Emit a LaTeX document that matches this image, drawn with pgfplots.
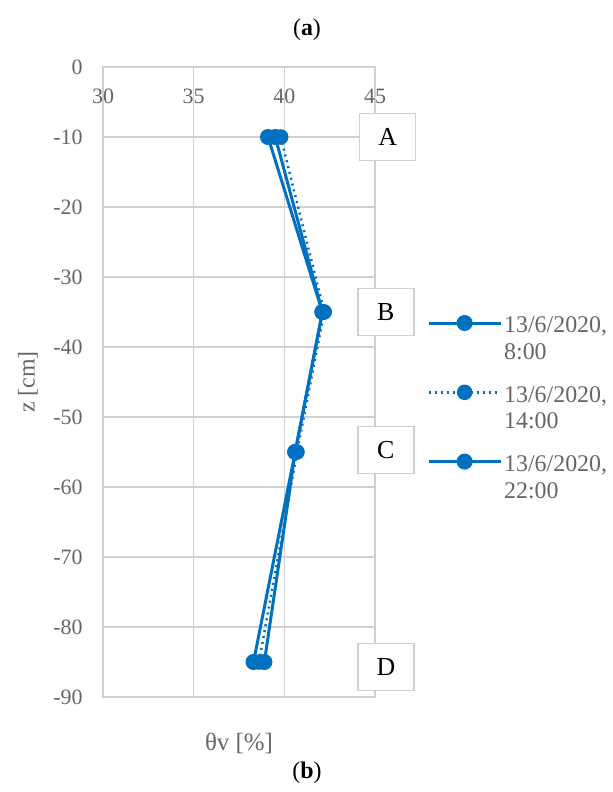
\documentclass[border=0pt]{standalone}
\usepackage{fontspec}
\setmainfont{Liberation Serif}
\usepackage{pgfplots}
\pgfplotsset{compat=1.18}
\definecolor{sblue}{HTML}{0070C0}
\definecolor{gridc}{HTML}{D0D0D0}
\definecolor{txtc}{HTML}{666666}
\begin{document}
\begin{tikzpicture}[x=1bp,y=1bp]
\path[use as bounding box] (0,0) rectangle (613,792);
\node[font=\fontsize{24}{28}\selectfont] at (307,762) {(\textbf{a})};
\node[font=\fontsize{24}{28}\selectfont] at (307,19) {(\textbf{b})};
\begin{axis}[
  at={(103bp,95bp)}, anchor=south west,
  width=272bp, height=630bp, scale only axis,
  xmin=30, xmax=45, ymin=-90, ymax=0,
  xtick={30,35,40,45}, ytick={-90,-80,-70,-60,-50,-40,-30,-20,-10,0},
  grid=major, grid style={gridc, line width=1.5bp},
  axis line style={gridc, line width=1.5bp},
  major tick length=0pt,
  xticklabel pos=upper,
  xticklabel style={anchor=center, yshift=-29bp},
  yticklabel style={anchor=east, xshift=-17bp},
  tick label style={font=\fontsize{22}{26}\selectfont, text=txtc},
  /pgf/number format/assume math mode=true,
  xlabel={θv [\%]},
  xlabel style={at={(axis description cs:0.5,0)}, anchor=center, yshift=-46bp, font=\fontsize{25}{29}\selectfont, text=txtc},
  ylabel={z [cm]},
  ylabel style={at={(axis description cs:0,0.5)}, anchor=center, yshift=75bp, font=\fontsize{24}{28}\selectfont, text=txtc},
  clip=false,
  legend style={at={(axis description cs:1.18,0.61)}, anchor=north west, draw=none, fill=none,
    font=\fontsize{24}{27}\selectfont, text=txtc, row sep=21bp, cells={align=left}},
  legend cell align=left,
  legend image code/.code={\draw[mark repeat=2,mark phase=2,#1] plot coordinates {(0bp,16bp) (36bp,16bp) (72bp,16bp)};},
]
\addplot[sblue, line width=3bp, mark=*, mark size=6.5bp] coordinates {(39.1,-10)(42.1,-35)(40.6,-55)(38.9,-85)};
\addlegendentry{13/6/2020,\\8:00}
\addplot[sblue, line width=2.5bp, dash pattern=on 2bp off 4bp, mark=*, mark size=6.5bp, mark options={solid}] coordinates {(39.8,-10)(42.2,-35)(40.7,-55)(38.6,-85)};
\addlegendentry{13/6/2020,\\14:00}
\addplot[sblue, line width=3bp, mark=*, mark size=6.5bp] coordinates {(39.5,-10)(42.1,-35)(40.6,-55)(38.3,-85)};
\addlegendentry{13/6/2020,\\22:00}
\node[draw=gridc, line width=1.5bp, fill=white, minimum width=56bp, minimum height=47bp, font=\fontsize{26}{30}\selectfont] at (axis cs:45.7,-10) {A};
\node[draw=gridc, line width=1.5bp, fill=white, minimum width=56bp, minimum height=47bp, font=\fontsize{26}{30}\selectfont] at (axis cs:45.6,-35) {B};
\node[draw=gridc, line width=1.5bp, fill=white, minimum width=56bp, minimum height=47bp, font=\fontsize{26}{30}\selectfont] at (axis cs:45.6,-54.7) {C};
\node[draw=gridc, line width=1.5bp, fill=white, minimum width=56bp, minimum height=47bp, font=\fontsize{26}{30}\selectfont] at (axis cs:45.6,-85.7) {D};
\end{axis}
\end{tikzpicture}
\end{document}
